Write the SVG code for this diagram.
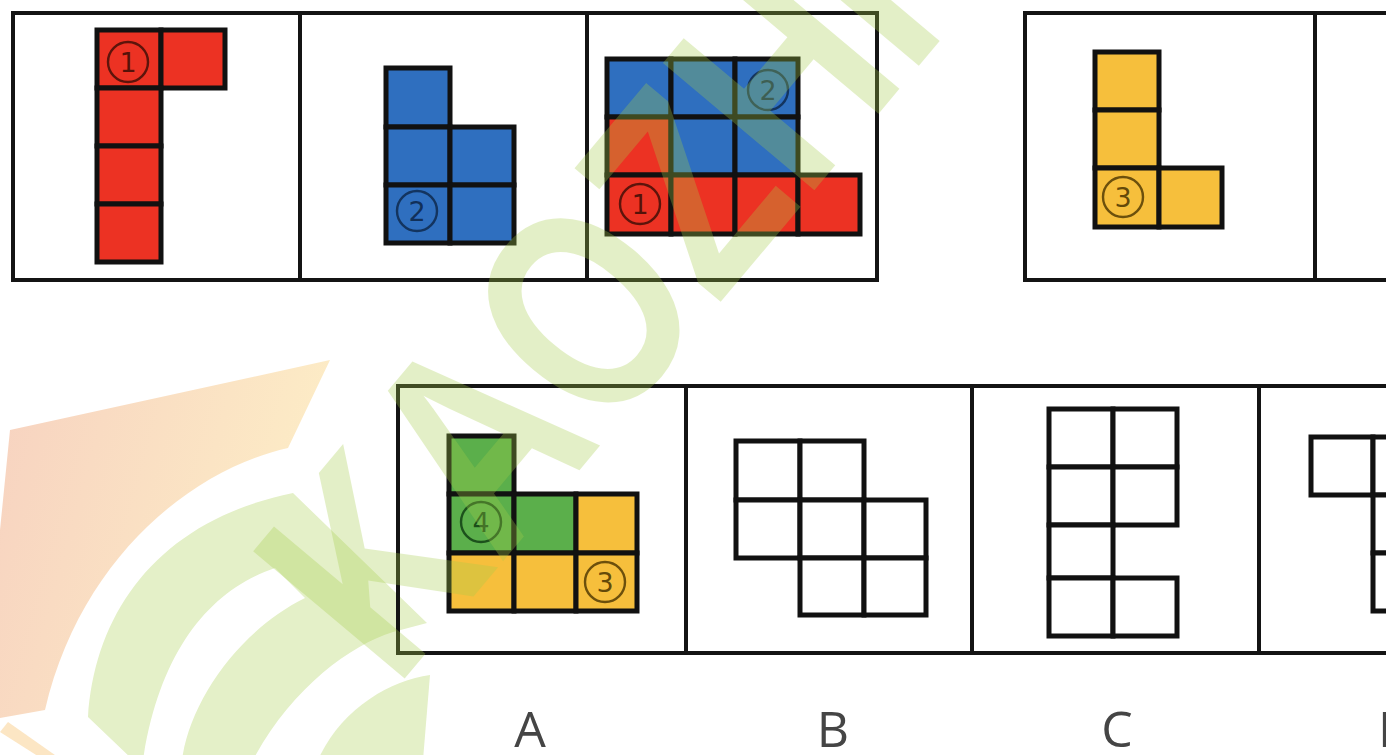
<svg xmlns="http://www.w3.org/2000/svg" width="1386" height="755" viewBox="0 0 1386 755">
<defs>
<linearGradient id="cap" x1="0" y1="0" x2="1" y2="0.3">
<stop offset="0" stop-color="#F7D2C0"/>
<stop offset="1" stop-color="#FDEDC6"/>
</linearGradient>
</defs>
<style>
.frame{fill:none;stroke:#141414;stroke-width:4}
.div{stroke:#141414;stroke-width:4}
.c{stroke:#111;stroke-width:5;stroke-linejoin:miter}
.r{fill:#EC3223}.b{fill:#2F6FBF}.y{fill:#F6BF3C}.g{fill:#5BAF4B}.w{fill:#fff}
.ring{fill:none;stroke-width:2.4;stroke-opacity:0.8}
.num{font-family:"DejaVu Sans",sans-serif;font-size:27px;text-anchor:middle;fill-opacity:0.85}
.lbl{font-family:"Open Sans","Liberation Sans",sans-serif;font-size:50px;fill:#454545}
.wm{fill:#A5CD48;opacity:0.3}
</style>
<rect width="1386" height="755" fill="#fff"/>

<g id="logo">
<path d="M10,430 L330,360 L288,448 C190,470 80,560 45,710 L0,718 L0,530 Z" fill="url(#cap)"/>
<path d="M0,732 L8,722 L62,760 L44,760 Z" fill="#FCE6C4"/>
<path style="fill:#E4F0C8" d="M88,717 C95,610 160,520 293,493 L427,623 L393,632 C350,645 290,690 253,760 L182,760 C190,700 240,630 305,598 L275,568 C210,590 160,650 143,760 L133,760 Z"/>
<path style="fill:#E4F0C8" d="M430,675 C390,680 340,710 318,760 L423,760 Z"/>
</g>

<g id="frames">
<rect class="frame" x="13" y="13" width="864" height="267"/>
<line class="div" x1="300" y1="13" x2="300" y2="280"/>
<line class="div" x1="587" y1="13" x2="587" y2="280"/>
<rect class="frame" x="1025" y="13" width="400" height="267"/>
<line class="div" x1="1315" y1="13" x2="1315" y2="280"/>
<rect class="frame" x="398" y="386" width="1040" height="267"/>
<line class="div" x1="686" y1="386" x2="686" y2="653"/>
<line class="div" x1="972" y1="386" x2="972" y2="653"/>
<line class="div" x1="1259" y1="386" x2="1259" y2="653"/>
</g>

<g id="fig1">
<rect class="c r" x="97" y="30" width="64" height="58"/>
<rect class="c r" x="161" y="30" width="64" height="58"/>
<rect class="c r" x="97" y="88" width="64" height="58"/>
<rect class="c r" x="97" y="146" width="64" height="58"/>
<rect class="c r" x="97" y="204" width="64" height="58"/>
<circle class="ring" cx="128" cy="62" r="20" stroke="#3a0d05"/>
<text class="num" x="128" y="72" fill="#3a0d05">1</text>
</g>

<g id="fig2">
<rect class="c b" x="386" y="68" width="64" height="59"/>
<rect class="c b" x="386" y="127" width="64" height="58"/>
<rect class="c b" x="450" y="127" width="64" height="58"/>
<rect class="c b" x="386" y="185" width="64" height="58"/>
<rect class="c b" x="450" y="185" width="64" height="58"/>
<circle class="ring" cx="417" cy="211" r="20" stroke="#0c2547"/>
<text class="num" x="417" y="221" fill="#0c2547">2</text>
</g>

<g id="fig3">
<rect class="c b" x="607" y="59" width="64" height="58"/>
<rect class="c b" x="671" y="59" width="64" height="58"/>
<rect class="c b" x="735" y="59" width="63" height="58"/>
<rect class="c r" x="607" y="117" width="64" height="58"/>
<rect class="c b" x="671" y="117" width="64" height="58"/>
<rect class="c b" x="735" y="117" width="63" height="58"/>
<rect class="c r" x="607" y="175" width="64" height="59"/>
<rect class="c r" x="671" y="175" width="64" height="59"/>
<rect class="c r" x="735" y="175" width="63" height="59"/>
<rect class="c r" x="798" y="175" width="62" height="59"/>
<circle class="ring" cx="768" cy="90" r="20" stroke="#0c2547"/>
<text class="num" x="768" y="100" fill="#0c2547">2</text>
<circle class="ring" cx="640" cy="204" r="20" stroke="#3a0d05"/>
<text class="num" x="640" y="214" fill="#3a0d05">1</text>
</g>

<g id="fig4">
<rect class="c y" x="1095" y="52" width="64" height="58"/>
<rect class="c y" x="1095" y="110" width="64" height="58"/>
<rect class="c y" x="1095" y="168" width="64" height="59"/>
<rect class="c y" x="1159" y="168" width="63" height="59"/>
<circle class="ring" cx="1123" cy="197" r="20" stroke="#4a3400"/>
<text class="num" x="1123" y="207" fill="#4a3400">3</text>
</g>

<g id="optA">
<rect class="c g" x="449" y="436" width="65" height="58"/>
<rect class="c g" x="449" y="494" width="65" height="59"/>
<rect class="c g" x="514" y="494" width="62" height="59"/>
<rect class="c y" x="576" y="494" width="61" height="59"/>
<rect class="c y" x="449" y="553" width="65" height="58"/>
<rect class="c y" x="514" y="553" width="62" height="58"/>
<rect class="c y" x="576" y="553" width="61" height="58"/>
<circle class="ring" cx="481" cy="522" r="20" stroke="#0d3a10"/>
<text class="num" x="481" y="532" fill="#0d3a10">4</text>
<circle class="ring" cx="605" cy="582" r="20" stroke="#4a3400"/>
<text class="num" x="605" y="592" fill="#4a3400">3</text>
<text class="lbl" x="530" y="747" text-anchor="middle">A</text>
</g>

<g id="optB">
<rect class="c w" x="736" y="441" width="64" height="59"/>
<rect class="c w" x="800" y="441" width="64" height="59"/>
<rect class="c w" x="736" y="500" width="64" height="58"/>
<rect class="c w" x="800" y="500" width="64" height="58"/>
<rect class="c w" x="864" y="500" width="62" height="58"/>
<rect class="c w" x="800" y="558" width="64" height="57"/>
<rect class="c w" x="864" y="558" width="62" height="57"/>
<text class="lbl" x="833" y="747" text-anchor="middle">B</text>
</g>

<g id="optC">
<rect class="c w" x="1049" y="409" width="64" height="58"/>
<rect class="c w" x="1113" y="409" width="64" height="58"/>
<rect class="c w" x="1049" y="467" width="64" height="58"/>
<rect class="c w" x="1113" y="467" width="64" height="58"/>
<rect class="c w" x="1049" y="525" width="64" height="53"/>
<rect class="c w" x="1049" y="578" width="64" height="58"/>
<rect class="c w" x="1113" y="578" width="64" height="58"/>
<text class="lbl" x="1117" y="747" text-anchor="middle">C</text>
</g>

<g id="optD">
<rect class="c w" x="1311" y="437" width="62" height="58"/>
<rect class="c w" x="1373" y="437" width="64" height="58"/>
<rect class="c w" x="1373" y="495" width="64" height="58"/>
<rect class="c w" x="1373" y="553" width="64" height="58"/>
<text class="lbl" x="1378" y="747">D</text>
</g>

<g id="watermark">
<text class="wm" x="0" y="0" transform="translate(395,690) rotate(-50) scale(0.9,1.15)" font-family="Liberation Sans, sans-serif" font-weight="bold" font-size="250">KAOZHI</text>
</g>
</svg>
